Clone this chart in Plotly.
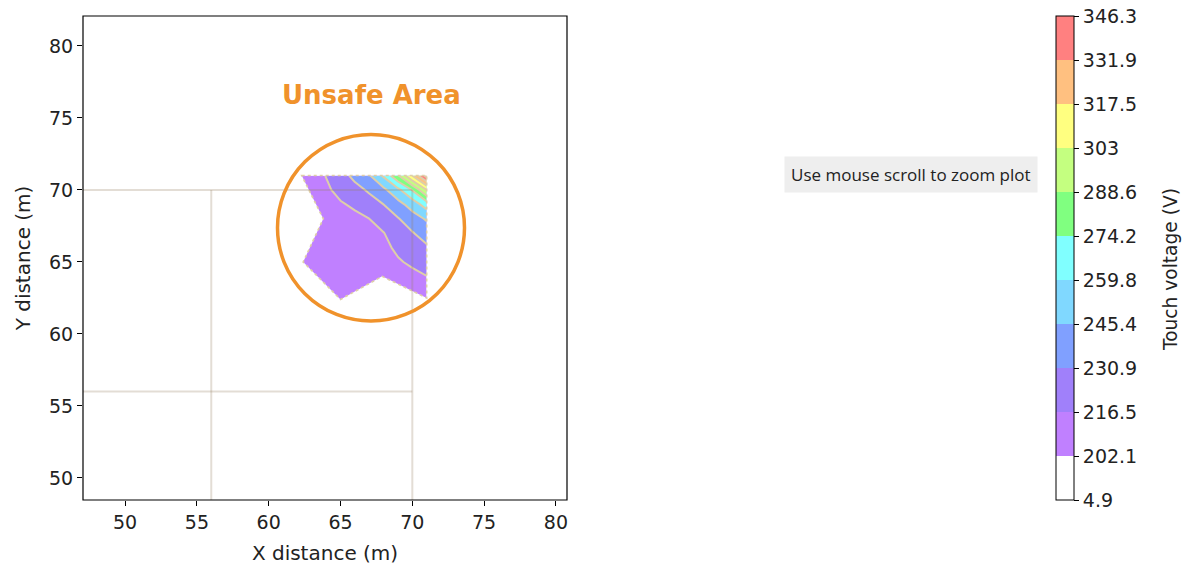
import plotly.graph_objects as go

# ---------------- data ----------------
grid_x = [62, 63, 64, 65, 66, 67, 68, 69, 70, 71]
grid_y = [62, 63, 64, 65, 66, 67, 68, 69, 70, 71]
# touch voltage (V), rows = grid_y, cols = grid_x
voltage = [
    [203, 203, 203, 203, 204, 204, 205, 205, 206, 206],
    [203, 203, 203, 204, 205, 206, 207, 208, 209, 210],
    [203, 203, 203, 204, 205, 207, 209, 211, 213, 216.3],
    [203, 204, 204, 204, 206, 209, 212, 215, 219, 223],
    [204, 205, 206, 207, 209, 211, 213, 219.4, 224.6, 229],
    [204, 206, 208, 209, 211, 213, 216, 225, 230, 237],
    [205, 207, 209, 211, 213, 216.5, 223.5, 230, 239, 247],
    [205, 208, 211, 215, 219, 224.7, 231, 240.5, 251.4, 267],
    [205, 209, 214, 221, 226, 233, 242, 256, 275, 303],
    [205, 210, 217, 225, 235, 244, 262, 287, 318, 352],
]
# computed-region boundary
region_x = [62.3, 71.0, 71.0, 67.9, 65.0, 62.4, 63.8, 62.3]
region_y = [71.0, 71.0, 62.5, 64.0, 62.4, 65.0, 68.0, 71.0]

# earth-grid conductors
conductor_pos = [42, 56, 70]
conductor_min, conductor_max = 42, 70

level_labels = ["4.9", "202.1", "216.5", "230.9", "245.4", "259.8",
                "274.2", "288.6", "303", "317.5", "331.9", "346.3"]
level_start, level_end, n_bands = 202.1, 346.3, 10

band_colors = ["#ffffff", "#c080ff", "#a080fa", "#80a0ff", "#80d8ff",
               "#80ffff", "#80ff80", "#c4ff80", "#ffff80", "#ffc080", "#ff8080"]

x_ticks = [50, 55, 60, 65, 70, 75, 80]
y_ticks = [50, 55, 60, 65, 70, 75, 80]

# ---------------- figure ----------------
W, H = 1188, 568
L, R, T, B = 83, 567, 16, 500
PW, PH = R - L, B - T
FONT = "DejaVu Sans"
ORANGE = "#f0922b"
LINE_BEIGE = "rgb(222,206,168)"

# step colourscale for contour fill (band k evaluated at k/11)
cs_fill = []
for k, c in enumerate(band_colors + [band_colors[-1]]):
    lo = max(0.0, (k - 0.5) / 11)
    hi = min(1.0, (k + 0.5) / 11)
    cs_fill.append([lo, c])
    cs_fill.append([hi, c])

# discrete colourscale for colourbar (index space 0..11)
cs_bar = []
for k, c in enumerate(band_colors):
    cs_bar.append([k / 11, c])
    cs_bar.append([(k + 1) / 11, c])

fig = go.Figure()

fig.add_trace(go.Contour(
    x=grid_x, y=grid_y, z=voltage,
    colorscale=cs_fill, showscale=False,
    contours=dict(start=level_start, end=level_end,
                  size=(level_end - level_start) / n_bands,
                  coloring="fill", showlines=True),
    line=dict(color=LINE_BEIGE, width=2, smoothing=0),
    hoverinfo="skip",
))

fig.add_trace(go.Scatter(
    x=[None], y=[None], mode="markers", hoverinfo="skip", showlegend=False,
    marker=dict(color=[0], cmin=0, cmax=11, colorscale=cs_bar, showscale=True,
                colorbar=dict(
                    thickness=18, outlinewidth=1, outlinecolor="black",
                    x=(1056 - L) / PW, xanchor="left", xpad=0,
                    y=0, yanchor="bottom", ypad=0,
                    lenmode="fraction", len=1,
                    tickmode="array", tickvals=list(range(12)), ticktext=level_labels,
                    ticks="outside", ticklen=5, tickwidth=1, tickcolor="black",
                    tickfont=dict(family=FONT, size=19, color="#222"),
                )),
))

shapes = []
# white mask outside computed region
mask = "M 30,30 L 95,30 L 95,95 L 30,95 Z M " + " L ".join(
    f"{x},{y}" for x, y in zip(region_x, region_y)) + " Z"
shapes.append(dict(type="path", path=mask, xref="x", yref="y", layer="above",
                   fillcolor="white", fillrule="evenodd", line=dict(width=0)))
# region outline
outline = "M " + " L ".join(f"{x},{y}" for x, y in zip(region_x, region_y)) + " Z"
shapes.append(dict(type="path", path=outline, xref="x", yref="y", layer="above",
                   line=dict(color=LINE_BEIGE, width=1.6, dash="dot")))
# conductors
for p in conductor_pos:
    shapes.append(dict(type="line", xref="x", yref="y", layer="above",
                       x0=p, x1=p, y0=conductor_min, y1=conductor_max,
                       line=dict(color="rgba(150,130,100,0.27)", width=2)))
    shapes.append(dict(type="line", xref="x", yref="y", layer="above",
                       x0=conductor_min, x1=conductor_max, y0=p, y1=p,
                       line=dict(color="rgba(150,130,100,0.27)", width=2)))
# unsafe-area circle
shapes.append(dict(type="circle", xref="paper", yref="paper", layer="above",
                   x0=(277.5 - L) / PW, x1=(464.5 - L) / PW,
                   y0=(B - 321) / PH, y1=(B - 134.5) / PH,
                   line=dict(color=ORANGE, width=3.5)))
# frame
shapes.append(dict(type="rect", xref="paper", yref="paper", layer="above",
                   x0=0, x1=1, y0=0, y1=1, line=dict(color="black", width=1.2)))

ax_common = dict(showgrid=False, zeroline=False, showline=False, automargin=False,
                 ticks="outside", ticklen=5, tickwidth=1, tickcolor="black",
                 tickfont=dict(family=FONT, size=19, color="#222"))

fig.update_layout(
    width=W, height=H,
    margin=dict(l=L, r=W - R, t=T, b=H - B, pad=0, autoexpand=False),
    paper_bgcolor="white", plot_bgcolor="white",
    showlegend=False,
    xaxis=dict(range=[47.07, 80.77], tickvals=x_ticks, **ax_common,
               title=dict(text="X distance (m)", standoff=14,
                          font=dict(family=FONT, size=20, color="#222"))),
    yaxis=dict(range=[48.47, 82.08], tickvals=y_ticks, **ax_common,
               title=dict(text="Y distance (m)", standoff=13,
                          font=dict(family=FONT, size=20, color="#222"))),
    shapes=shapes,
    annotations=[
        dict(text="<b>Unsafe Area</b>", xref="paper", yref="paper",
             x=(371 - L) / PW, y=(B - 95) / PH, showarrow=False,
             xanchor="center", yanchor="middle",
             font=dict(family=FONT, size=26, color=ORANGE)),
        dict(text="Use mouse scroll to zoom plot", xref="paper", yref="paper",
             x=(911 - L) / PW, y=(B - 175) / PH, showarrow=False,
             xanchor="center", yanchor="middle",
             bgcolor="#eeeeee", borderpad=6,
             font=dict(family="Open Sans", size=17, color="#222")),
        dict(text="Touch voltage (V)", xref="paper", yref="paper",
             x=(1170 - L) / PW, y=(B - 270) / PH, showarrow=False, textangle=-90,
             xanchor="center", yanchor="middle",
             font=dict(family=FONT, size=18.6, color="#222")),
    ],
)

fig.write_html("out.html", config={"displayModeBar": False},
               post_script="document.body.style.margin='0';document.body.style.padding='0';")
